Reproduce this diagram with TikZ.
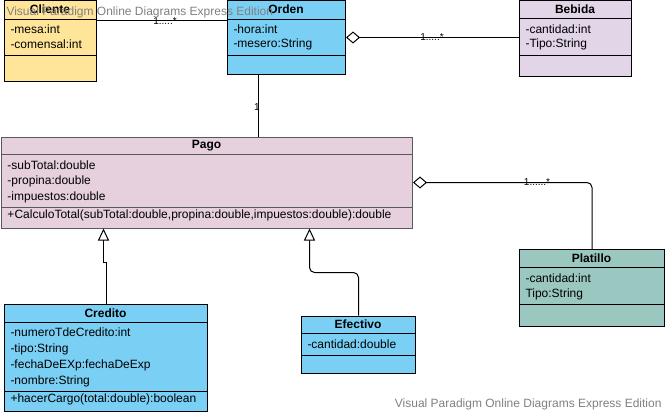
\documentclass[tikz,border=0pt]{standalone}
\usepackage{fontspec}
\setmainfont{Liberation Sans}
\usetikzlibrary{arrows.meta}
\definecolor{clienteC}{HTML}{FFE599}
\definecolor{azulC}{HTML}{7ACFF5}
\definecolor{bebidaC}{HTML}{E1D5E7}
\definecolor{pagoC}{HTML}{E6D0DE}
\definecolor{platilloC}{HTML}{9AC7BF}
\definecolor{marcaC}{HTML}{808080}

\begin{document}
\begin{tikzpicture}[x=1pt,y=-1pt,line width=1pt,
  clase/.style={draw,anchor=north west,inner sep=0pt},
  titulo/.style={inner sep=0pt,font=\fontsize{12}{14}\selectfont\bfseries},
  attr/.style={anchor=west,inner sep=0pt,font=\fontsize{12}{14}\selectfont},
  mult/.style={inner sep=0pt,font=\fontsize{10}{12}\selectfont},
  marca/.style={inner sep=0pt,text=marcaC,font=\fontsize{12}{14}\selectfont},
  agreg/.style={{Diamond[open,fill=white,length=14pt,width=12pt]}-},
  gener/.style={-{Triangle[open,fill=white,length=12pt,width=11pt]}}]
\useasboundingbox (0,0) rectangle (667,415);

\node[clase,fill=clienteC,minimum width=92pt,minimum height=81pt] (cliente) at (4,0) {};
\draw (4,19) -- (96,19);
\draw (4,55.5) -- (96,55.5);
\node[titulo] (clienteN) at (50,9.5) {Cliente};
\node[attr] (clienteA1) at (10,29) {-mesa:int};
\node[attr] (clienteA2) at (10,44) {-comensal:int};

\node[clase,fill=azulC,minimum width=118pt,minimum height=74pt] (orden) at (227,0) {};
\draw (227,19) -- (345,19);
\draw (227,55.5) -- (345,55.5);
\node[titulo] (ordenN) at (286,9.5) {Orden};
\node[attr] (ordenA1) at (233,29) {-hora:int};
\node[attr] (ordenA2) at (233,44.5) {-mesero:String};

\node[clase,fill=bebidaC,minimum width=111.5pt,minimum height=76pt] (bebida) at (519,0) {};
\draw (519,18.5) -- (630.5,18.5);
\draw (519,55.5) -- (630.5,55.5);
\node[titulo] (bebidaN) at (575,9) {Bebida};
\node[attr] (bebidaA1) at (525,29) {-cantidad:int};
\node[attr] (bebidaA2) at (525,44) {-Tipo:String};

\node[clase,draw=black!65,fill=pagoC,minimum width=411pt,minimum height=91pt] (pago) at (1,136.5) {};
\draw[black!65] (1,154) -- (412,154);
\draw[black!65] (1,207.5) -- (412,207.5);
\node[titulo] (pagoN) at (206.5,145.5) {Pago};
\node[attr] (pagoA1) at (7,165) {-subTotal:double};
\node[attr] (pagoA2) at (7,181) {-propina:double};
\node[attr] (pagoA3) at (7,197) {-impuestos:double};
\node[attr] (pagoM1) at (7,215) {+CalculoTotal(subTotal:double,propina:double,impuestos:double):double};

\node[clase,fill=platilloC,minimum width=145pt,minimum height=77pt] (platillo) at (519,249) {};
\draw (519,267) -- (664,267);
\draw (519,304) -- (664,304);
\node[titulo] (platilloN) at (591.5,258) {Platillo};
\node[attr] (platilloA1) at (525,278) {-cantidad:int};
\node[attr] (platilloA2) at (525,294) {Tipo:String};

\node[clase,fill=azulC,minimum width=203pt,minimum height=107pt] (credito) at (4,304) {};
\draw (4,322) -- (207,322);
\draw (4,391.5) -- (207,391.5);
\node[titulo] (creditoN) at (105.5,313) {Credito};
\node[attr] (creditoA1) at (10,332.5) {-numeroTdeCredito:int};
\node[attr] (creditoA2) at (10,349) {-tipo:String};
\node[attr] (creditoA3) at (10,365) {-fechaDeEXp:fechaDeExp};
\node[attr] (creditoA4) at (10,381) {-nombre:String};
\node[attr] (creditoM1) at (10,399) {+hacerCargo(total:double):boolean};

\node[clase,fill=azulC,minimum width=114pt,minimum height=57.5pt] (efectivo) at (301,315.5) {};
\draw (301,333) -- (415,333);
\draw (301,355) -- (415,355);
\node[titulo] (efectivoN) at (358,324) {Efectivo};
\node[attr] (efectivoA1) at (307,344) {-cantidad:double};

% relaciones
\draw ([yshift=-20pt]cliente.north east) -- ([yshift=-20pt]orden.north west);
\node[mult] (multCO) at (165,21) {1.....*};
\draw[agreg] (orden.east) -- (bebida.west |- orden.east);
\node[mult] (multOB) at (432,37) {1.....*};
\draw ([xshift=-28pt]orden.south) -- ([xshift=-28pt]orden.south |- pago.north);
\node[mult] (multOP) at (257,107) {1};
\draw[agreg,rounded corners=5pt] (pago.east) -| (platillo.north);
\node[mult] (multPP) at (537,182) {1......*};
\draw[gener] (credito.north) -- ++(0,-42) -| ([xshift=-103.5pt]pago.south);
\draw[gener,rounded corners=5pt] (efectivo.north) -- ++(0,-43) -| ([xshift=102.5pt]pago.south);

\node[marca,anchor=west] (marca1) at (6,12) {Visual Paradigm Online Diagrams Express Edition};
\node[marca,anchor=east] (marca2) at (662,404) {Visual Paradigm Online Diagrams Express Edition};
\end{tikzpicture}
\end{document}
